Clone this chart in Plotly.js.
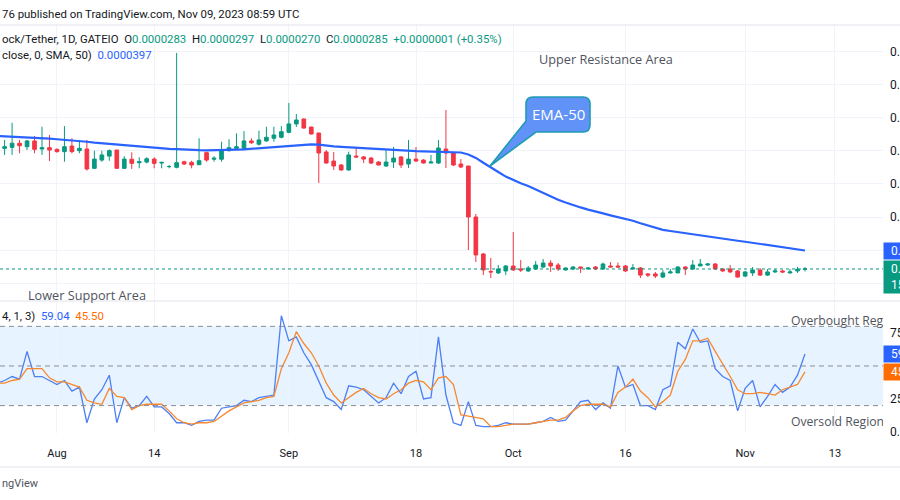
<!DOCTYPE html>
<html>
<head>
<meta charset="utf-8">
<script src="https://cdn.plot.ly/plotly-3.0.1.min.js"></script>
<style>html,body{margin:0;padding:0;background:#fff;}#chart{width:900px;height:500px;}</style>
</head>
<body>
<div id="chart"></div>
<script>
// ---- Data (daily candles, GATEIO, 1D) ----
const dates = [
"2023-07-24","2023-07-25","2023-07-26","2023-07-27","2023-07-28","2023-07-29","2023-07-30","2023-07-31",
"2023-08-01","2023-08-02","2023-08-03","2023-08-04","2023-08-05","2023-08-06","2023-08-07","2023-08-08","2023-08-09","2023-08-10",
"2023-08-11","2023-08-12","2023-08-13","2023-08-14","2023-08-15","2023-08-16","2023-08-17","2023-08-18","2023-08-19","2023-08-20",
"2023-08-21","2023-08-22","2023-08-23","2023-08-24","2023-08-25","2023-08-26","2023-08-27","2023-08-28","2023-08-29","2023-08-30","2023-08-31",
"2023-09-01","2023-09-02","2023-09-03","2023-09-04","2023-09-05","2023-09-06","2023-09-07","2023-09-08","2023-09-09","2023-09-10",
"2023-09-11","2023-09-12","2023-09-13","2023-09-14","2023-09-15","2023-09-16","2023-09-17","2023-09-18","2023-09-19","2023-09-20",
"2023-09-21","2023-09-22","2023-09-23","2023-09-24","2023-09-25","2023-09-26","2023-09-27","2023-09-28","2023-09-29","2023-09-30",
"2023-10-01","2023-10-02","2023-10-03","2023-10-04","2023-10-05","2023-10-06","2023-10-07","2023-10-08","2023-10-09","2023-10-10",
"2023-10-11","2023-10-12","2023-10-13","2023-10-14","2023-10-15","2023-10-16","2023-10-17","2023-10-18","2023-10-19","2023-10-20",
"2023-10-21","2023-10-22","2023-10-23","2023-10-24","2023-10-25","2023-10-26","2023-10-27","2023-10-28","2023-10-29","2023-10-30","2023-10-31",
"2023-11-01","2023-11-02","2023-11-03","2023-11-04","2023-11-05","2023-11-06","2023-11-07","2023-11-08","2023-11-09"];

const open = [101.0e-6,101.6e-6,102.2e-6,104.7e-6,102.6e-6,106.1e-6,101.2e-6,102.0e-6,101.0e-6,99.6e-6,103.0e-6,100.2e-6,101.2e-6,89.5e-6,94.5e-6,96.9e-6,100.6e-6,89.5e-6,95.0e-6,92.9e-6,93.3e-6,95.1e-6,92.7e-6,90.5e-6,90.1e-6,93.5e-6,93.1e-6,91.7e-6,99.0e-6,95.0e-6,95.0e-6,100.2e-6,101.6e-6,101.6e-6,106.1e-6,104.1e-6,106.1e-6,107.7e-6,108.3e-6,111.3e-6,116.4e-6,119.4e-6,114.5e-6,110.9e-6,99.4e-6,93.9e-6,91.5e-6,88.5e-6,96.9e-6,96.4e-6,95.7e-6,93.3e-6,90.9e-6,93.3e-6,96.4e-6,92.1e-6,95.1e-6,94.5e-6,92.7e-6,92.7e-6,101.2e-6,98.8e-6,92.1e-6,90.9e-6,60.0e-6,37.6e-6,27.0e-6,26.1e-6,27.3e-6,30.3e-6,28.5e-6,27.3e-6,28.5e-6,29.7e-6,32.1e-6,30.9e-6,27.9e-6,28.5e-6,29.7e-6,28.5e-6,29.7e-6,28.5e-6,30.3e-6,30.3e-6,30.3e-6,28.5e-6,29.1e-6,25.5e-6,25.5e-6,23.6e-6,26.1e-6,26.1e-6,29.7e-6,28.5e-6,30.3e-6,30.9e-6,31.5e-6,28.5e-6,28.5e-6,27.3e-6,24.2e-6,26.1e-6,27.9e-6,24.8e-6,26.7e-6,27.3e-6,26.1e-6,27.3e-6,28.3e-6];
const high = [103.5e-6,106.7e-6,117.1e-6,106.7e-6,106.7e-6,109.1e-6,114.7e-6,109.7e-6,101.6e-6,115.1e-6,107.7e-6,106.7e-6,106.7e-6,100.2e-6,100.2e-6,101.0e-6,100.6e-6,96.9e-6,99.2e-6,96.2e-6,96.2e-6,96.2e-6,93.5e-6,91.5e-6,159.4e-6,94.1e-6,94.1e-6,107.7e-6,99.6e-6,96.9e-6,105.6e-6,107.1e-6,110.7e-6,112.1e-6,107.7e-6,112.3e-6,114.7e-6,114.7e-6,115.1e-6,129.1e-6,122.4e-6,119.6e-6,114.7e-6,111.0e-6,100.6e-6,99.4e-6,92.1e-6,99.6e-6,102.4e-6,96.9e-6,96.4e-6,93.9e-6,100.6e-6,102.4e-6,96.9e-6,106.7e-6,102.4e-6,95.1e-6,97.6e-6,106.7e-6,124.8e-6,99.4e-6,95.1e-6,91.0e-6,61.8e-6,38.2e-6,35.2e-6,30.9e-6,30.9e-6,50.9e-6,33.9e-6,30.3e-6,33.3e-6,34.5e-6,33.9e-6,32.1e-6,29.4e-6,30.3e-6,29.9e-6,29.4e-6,30.3e-6,32.4e-6,32.7e-6,32.4e-6,30.9e-6,31.5e-6,29.7e-6,26.1e-6,26.7e-6,27.9e-6,28.5e-6,30.1e-6,30.3e-6,33.9e-6,34.5e-6,32.1e-6,32.1e-6,29.1e-6,30.9e-6,27.9e-6,27.3e-6,29.7e-6,29.1e-6,28.5e-6,28.5e-6,27.9e-6,28.5e-6,29.7e-6,29.7e-6];
const low = [99.0e-6,97.6e-6,97.6e-6,98.6e-6,100.6e-6,98.6e-6,97.6e-6,93.9e-6,99.0e-6,93.5e-6,98.6e-6,98.6e-6,88.1e-6,89.1e-6,93.5e-6,94.1e-6,89.1e-6,89.1e-6,89.1e-6,89.5e-6,92.5e-6,89.5e-6,89.5e-6,89.5e-6,89.5e-6,91.5e-6,89.5e-6,91.5e-6,93.5e-6,93.5e-6,93.5e-6,99.6e-6,100.6e-6,101.0e-6,104.2e-6,103.2e-6,105.6e-6,105.6e-6,107.7e-6,110.7e-6,114.5e-6,113.6e-6,110.0e-6,80.6e-6,92.4e-6,88.5e-6,88.1e-6,88.1e-6,95.7e-6,92.7e-6,92.1e-6,91.3e-6,90.3e-6,89.7e-6,89.7e-6,89.7e-6,93.3e-6,92.4e-6,92.7e-6,92.1e-6,89.7e-6,90.9e-6,89.7e-6,40.0e-6,32.7e-6,24.8e-6,23.0e-6,25.5e-6,24.8e-6,27.3e-6,26.7e-6,26.7e-6,27.9e-6,29.1e-6,26.7e-6,27.3e-6,27.6e-6,27.9e-6,26.1e-6,28.2e-6,27.9e-6,27.9e-6,29.5e-6,29.1e-6,26.7e-6,28.3e-6,23.0e-6,23.6e-6,23.0e-6,23.0e-6,25.8e-6,26.1e-6,24.8e-6,27.9e-6,30.3e-6,30.3e-6,27.9e-6,26.7e-6,26.1e-6,23.3e-6,23.6e-6,24.2e-6,24.2e-6,24.2e-6,26.1e-6,26.1e-6,25.8e-6,26.1e-6,27.0e-6];
const close = [101.6e-6,102.6e-6,104.7e-6,103.2e-6,106.1e-6,101.0e-6,102.0e-6,100.6e-6,99.6e-6,102.6e-6,99.6e-6,101.6e-6,89.1e-6,95.1e-6,97.6e-6,100.2e-6,89.5e-6,95.1e-6,92.5e-6,93.5e-6,95.3e-6,92.5e-6,93.1e-6,90.6e-6,92.9e-6,92.1e-6,91.5e-6,94.1e-6,94.5e-6,95.6e-6,100.6e-6,102.0e-6,102.6e-6,106.1e-6,105.0e-6,106.7e-6,108.3e-6,109.7e-6,111.7e-6,116.4e-6,118.8e-6,113.9e-6,110.3e-6,98.8e-6,92.7e-6,90.9e-6,88.5e-6,97.6e-6,96.4e-6,95.1e-6,92.7e-6,91.5e-6,93.3e-6,95.7e-6,91.5e-6,95.1e-6,93.9e-6,92.7e-6,93.3e-6,101.8e-6,98.8e-6,91.5e-6,90.3e-6,60.0e-6,37.0e-6,27.9e-6,26.7e-6,28.5e-6,30.3e-6,27.9e-6,27.9e-6,29.1e-6,30.9e-6,32.1e-6,30.3e-6,28.5e-6,29.1e-6,29.7e-6,29.1e-6,29.1e-6,28.5e-6,31.5e-6,29.7e-6,29.7e-6,27.3e-6,29.1e-6,24.8e-6,24.8e-6,24.2e-6,26.1e-6,26.7e-6,29.7e-6,28.5e-6,30.9e-6,31.5e-6,31.5e-6,28.5e-6,27.3e-6,26.7e-6,23.6e-6,26.7e-6,27.9e-6,24.8e-6,26.7e-6,27.3e-6,26.7e-6,26.7e-6,28.3e-6,28.5e-6];

// 50-period moving average line
const ma50 = [109.1e-6,108.9e-6,108.7e-6,108.5e-6,108.4e-6,108.2e-6,107.9e-6,107.5e-6,107.1e-6,106.8e-6,106.4e-6,106.1e-6,105.6e-6,105.1e-6,104.7e-6,104.2e-6,103.8e-6,103.3e-6,102.9e-6,102.5e-6,102.1e-6,101.8e-6,101.5e-6,101.3e-6,101.1e-6,100.8e-6,100.7e-6,100.5e-6,100.4e-6,100.4e-6,100.5e-6,100.6e-6,100.8e-6,101.0e-6,101.3e-6,101.6e-6,101.9e-6,102.2e-6,102.6e-6,103.0e-6,103.4e-6,103.8e-6,104.0e-6,103.8e-6,103.2e-6,102.8e-6,102.5e-6,102.2e-6,102.0e-6,101.7e-6,101.4e-6,101.1e-6,100.8e-6,100.6e-6,100.4e-6,100.1e-6,99.9e-6,99.8e-6,99.7e-6,99.6e-6,99.6e-6,99.4e-6,99.1e-6,97.9e-6,95.8e-6,92.9e-6,90.3e-6,87.3e-6,84.5e-6,82.4e-6,80.4e-6,78.8e-6,76.7e-6,74.4e-6,72.4e-6,70.5e-6,68.8e-6,67.1e-6,65.8e-6,64.5e-6,63.5e-6,62.2e-6,61.0e-6,59.9e-6,59.0e-6,57.7e-6,56.2e-6,54.8e-6,53.5e-6,52.2e-6,51.5e-6,50.8e-6,50.2e-6,49.6e-6,49.1e-6,48.4e-6,47.7e-6,47.0e-6,46.3e-6,45.6e-6,45.0e-6,44.3e-6,43.6e-6,43.0e-6,42.3e-6,41.6e-6,40.9e-6,40.2e-6,39.7e-6];

// Stochastic (14, 1, 3)
const stochK = [37,39,42,40,61,42,42,39,36,39,31,34,7,25,32,43,7,26,18,20,27,19,19,14,7,7,5,8,9,9,18,19,20,24,23,26,27,28,88,69,72,60,51,39,26,23,17,35,34,32,27,22,26,37,29,42,46,25,26,72,28,7,5,23,5,4,4,5,7,6,6,6,7,8,11,8,9,16,23,24,17,22,18,50,34,36,20,20,17,32,35,68,63,78,68,69,48,42,39,16,33,39,19,27,36,30,34,43,59.04];
const stochD = [37,37,39,40,48,48,48,41,38,38,36,34,24,22,21,33,27,26,17,20,21,21,21,16,10,7,6,7,7,8,12,16,19,22,23,24,26,27,48,60,76,67,60,50,37,28,22,26,30,33,29,26,25,29,32,37,39,38,32,41,42,36,13,12,11,10,4,4,5,6,6,6,7,8,9,9,11,16,20,21,21,21,19,30,34,40,31,26,19,23,28,46,55,69,69,71,61,52,42,32,29,29,30,29,28,32,34,36,45.50];

// Tick labels (labels hidden behind the price badges are left blank, as in the reference)
const priceTicks = [20e-6,40e-6,60e-6,80e-6,100e-6,120e-6,140e-6,160e-6];
const priceTickText = ["","","0.0000600","0.0000800","0.0001000","0.0001200","0.0001400","0.0001600"];
const timeTicks = ["2023-08-01","2023-08-14","2023-09-01","2023-09-18","2023-10-01","2023-10-16","2023-11-01","2023-11-13"];
const timeTickText = ["Aug","14","Sep","18","Oct","16","Nov","13"];
const stochTicks = [0,25,50,75];
const stochTickText = ["0.00","25.00","","75.00"];
const bandLevels = [80,50,20];

// ---- Styling ----
const GREEN = "#089981", RED = "#f23645", BLUE = "#2962ff", ORANGE = "#ff6d00";
const TXT = "#131722", GRID = "#f0f3fa", SEP = "#e0e3eb", NOTE = "#50535e";
const FONT = "Roboto, sans-serif";
const DFONT = "Open Sans, sans-serif";
const LEG = 11.4;
const W = 900, H = 500, PLOT_R = 883;
const px = x => x / W, py = y => 1 - y / H;
const last = close.length - 1;

const traces = [
  {type:"candlestick", x:dates, open:open, high:high, low:low, close:close, xaxis:"x2", yaxis:"y",
   increasing:{line:{color:GREEN,width:1}, fillcolor:GREEN},
   decreasing:{line:{color:RED,width:1}, fillcolor:RED},
   whiskerwidth:0, hoverinfo:"skip"},
  {type:"scatter", mode:"lines", x:dates, y:ma50, xaxis:"x2", yaxis:"y",
   line:{color:BLUE,width:2.2}, hoverinfo:"skip"},
  {type:"scatter", mode:"lines", x:dates, y:stochK, xaxis:"x", yaxis:"y2",
   line:{color:"#4d7ff5",width:1.3}, hoverinfo:"skip"},
  {type:"scatter", mode:"lines", x:dates, y:stochD, xaxis:"x", yaxis:"y2",
   line:{color:"#f7882f",width:1.3}, hoverinfo:"skip"},
  {type:"scatter", mode:"text", x:["2023-11-07 03:00","2023-11-07 03:00"], y:[83.5,7],
   text:["Overbought Region","Oversold Region"], textposition:"middle right",
   textfont:{family:DFONT,size:12.2,color:NOTE}, xaxis:"x", yaxis:"y2", hoverinfo:"skip", cliponaxis:true}
];

const shapes = [
  // pane separators
  {type:"line", xref:"paper", yref:"paper", x0:0, x1:1, y0:py(25), y1:py(25), line:{color:SEP,width:1}},
  {type:"line", xref:"paper", yref:"paper", x0:0, x1:1, y0:py(301), y1:py(301), line:{color:SEP,width:1}},
  {type:"line", xref:"paper", yref:"paper", x0:0, x1:1, y0:py(467), y1:py(467), line:{color:SEP,width:1}},
  // stochastic band
  {type:"rect", xref:"paper", yref:"y2", x0:0, x1:px(PLOT_R), y0:bandLevels[2], y1:bandLevels[0],
   fillcolor:"rgba(33,150,243,0.11)", line:{width:0}, layer:"below"},
  // current price dotted line
  {type:"line", xref:"paper", yref:"y", x0:0, x1:px(PLOT_R), y0:close[last], y1:close[last],
   line:{color:GREEN,width:1,dash:"dot"}}
];
bandLevels.forEach(v => shapes.push({type:"line", xref:"paper", yref:"y2", x0:0, x1:px(PLOT_R), y0:v, y1:v,
  line:{color:"#8a8d96",width:1,dash:"5px,4px"}}));

// EMA-50 callout (rounded box with tail), drawn in page pixels
const P = (x,y) => px(x)+","+py(y);
const calloutPath = "M " + P(533,97) + " L " + P(583,97) + " Q " + P(590,97) + " " + P(590,104) +
  " L " + P(590,125) + " Q " + P(590,132) + " " + P(583,132) +
  " L " + P(536,132) + " L " + P(490,166) + " L " + P(526,121) +
  " L " + P(526,104) + " Q " + P(526,97) + " " + P(533,97) + " Z";
shapes.push({type:"path", xref:"paper", yref:"paper", path:calloutPath, fillcolor:"#6092f7",
  line:{color:"#1f9cb4",width:1.6}, layer:"above"});

const col = (c,s) => `<span style="color:${c}">${s}</span>`;
const annotations = [
  {xref:"paper", yref:"paper", x:0, y:py(14), xanchor:"left", yanchor:"middle", showarrow:false,
   text:"76 published on TradingView.com, Nov 09, 2023 08:59 UTC", font:{family:FONT,size:LEG,color:TXT}},
  {xref:"paper", yref:"paper", x:0, y:py(39), xanchor:"left", yanchor:"middle", showarrow:false,
   text:"ock/Tether, 1D, GATEIO  O" + col(GREEN,"0.0000283") + "  H" + col(GREEN,"0.0000297") + "  L" + col(GREEN,"0.0000270") +
        "  C" + col(GREEN,"0.0000285") + "  " + col(GREEN,"+0.0000001 (+0.35%)"), font:{family:FONT,size:LEG,color:TXT}},
  {xref:"paper", yref:"paper", x:0, y:py(55), xanchor:"left", yanchor:"middle", showarrow:false,
   text:"close, 0, SMA, 50)  " + col(BLUE,"0.0000397"), font:{family:FONT,size:LEG,color:TXT}},
  {xref:"paper", yref:"paper", x:0, y:py(316), xanchor:"left", yanchor:"middle", showarrow:false,
   text:"4, 1, 3)  " + col(BLUE,"59.04") + "  " + col(ORANGE,"45.50"), font:{family:FONT,size:LEG,color:TXT}},
  {xref:"paper", yref:"paper", x:px(537), y:py(59), xanchor:"left", yanchor:"middle", showarrow:false,
   text:"Upper Resistance Area", font:{family:DFONT,size:12.7,color:NOTE}},
  {xref:"paper", yref:"paper", x:px(26), y:py(295), xanchor:"left", yanchor:"middle", showarrow:false,
   text:"Lower Support Area", font:{family:DFONT,size:12.7,color:NOTE}},
  {xref:"paper", yref:"paper", x:px(558), y:py(114), xanchor:"center", yanchor:"middle", showarrow:false,
   text:"EMA-50", font:{family:DFONT,size:15,color:"#ffffff"}},
  {xref:"paper", yref:"paper", x:0, y:py(483), xanchor:"left", yanchor:"middle", showarrow:false,
   text:"ngView", font:{family:FONT,size:11,color:NOTE}},
  // price-scale badges
  {xref:"paper", yref:"y", x:px(PLOT_R), y:ma50[ma50.length-1], xanchor:"left", yanchor:"middle", showarrow:false,
   text:"&nbsp;&nbsp;0.0000397", bgcolor:BLUE, borderpad:1, font:{family:FONT,size:12,color:"#fff"}},
  {xref:"paper", yref:"y", x:px(PLOT_R), y:close[last], xanchor:"left", yanchor:"top", yshift:9, showarrow:false,
   text:"&nbsp;&nbsp;0.0000285<br>&nbsp;&nbsp;15:00:59", align:"left", bgcolor:GREEN, borderpad:1, font:{family:FONT,size:12,color:"#fff"}},
  {xref:"paper", yref:"y2", x:px(PLOT_R), y:stochK[stochK.length-1], xanchor:"left", yanchor:"middle", showarrow:false,
   text:"&nbsp;&nbsp;59.04", bgcolor:BLUE, borderpad:1, font:{family:FONT,size:12,color:"#fff"}},
  {xref:"paper", yref:"y2", x:px(PLOT_R), y:stochD[stochD.length-1], xanchor:"left", yanchor:"middle", showarrow:false,
   text:"&nbsp;&nbsp;45.50", bgcolor:ORANGE, borderpad:1, font:{family:FONT,size:12,color:"#fff"}}
];

const xRange = ["2023-07-24 09:14","2023-11-19 10:20"];
const layout = {
  width:W, height:H, margin:{l:0,r:0,t:0,b:0}, paper_bgcolor:"#ffffff", plot_bgcolor:"rgba(0,0,0,0)",
  showlegend:false, font:{family:FONT,color:TXT,size:12},
  xaxis:{domain:[0,px(PLOT_R)], anchor:"y2", type:"date", range:xRange, tickvals:timeTicks, ticktext:timeTickText,
         showgrid:true, gridcolor:GRID, zeroline:false, showline:false, ticks:"", ticklabelstandoff:12,
         tickfont:{family:FONT,size:11,color:TXT}, rangeslider:{visible:false}, fixedrange:true},
  xaxis2:{domain:[0,px(PLOT_R)], anchor:"y", type:"date", range:xRange, tickvals:timeTicks, showticklabels:false,
          showgrid:true, gridcolor:GRID, zeroline:false, showline:false, ticks:"", rangeslider:{visible:false}, fixedrange:true},
  yaxis:{domain:[py(300),py(25)], anchor:"x2", side:"right", range:[9.7e-6,176.35e-6], tickvals:priceTicks, ticktext:priceTickText,
         showgrid:true, gridcolor:GRID, zeroline:false, showline:false, ticks:"", ticklabelstandoff:6,
         tickfont:{family:FONT,size:12,color:TXT}, fixedrange:true},
  yaxis2:{domain:[py(433),py(301)], anchor:"x", side:"right", range:[-0.76,99.2], tickvals:stochTicks, ticktext:stochTickText,
          showgrid:false, zeroline:false, showline:false, ticks:"", ticklabelstandoff:6,
          tickfont:{family:FONT,size:12,color:TXT}, fixedrange:true},
  shapes:shapes, annotations:annotations
};

Plotly.newPlot("chart", traces, layout, {displayModeBar:false, staticPlot:true});
</script>
</body>
</html>
